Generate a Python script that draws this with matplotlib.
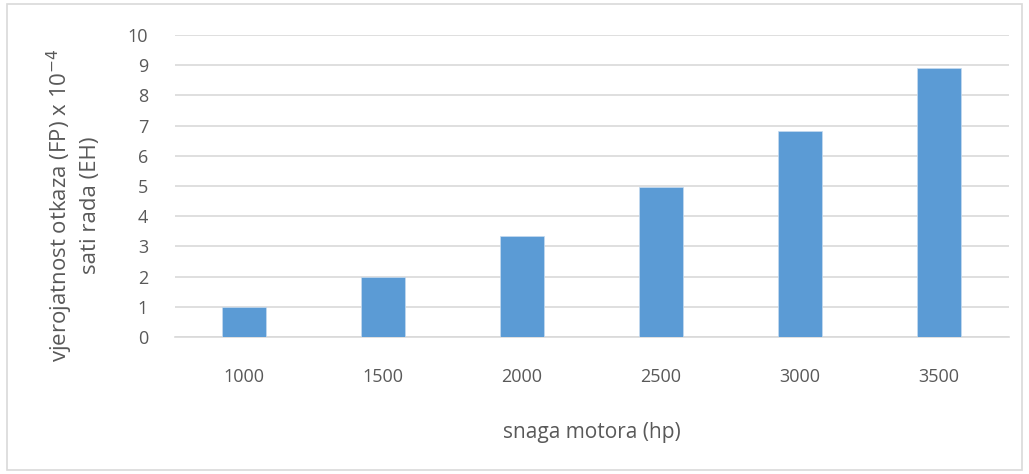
import matplotlib.pyplot as plt
from matplotlib.patches import Rectangle

snaga = ['1000', '1500', '2000', '2500', '3000', '3500']
vjerojatnost = [0.99, 2.0, 3.35, 4.97, 6.83, 8.92]

W, H = 1029, 474
fig = plt.figure(figsize=(W / 100, H / 100), dpi=100)
plt.rcParams['font.family'] = ['Open Sans', 'DejaVu Sans']

# okvir oko grafa
fig.patches.append(Rectangle((7 / W, 4 / H), (1022 - 7) / W, (470 - 4) / H,
                             transform=fig.transFigure, fill=False,
                             edgecolor='#d9d9d9', linewidth=1.2))

ax = fig.add_axes([174.5 / W, 1 - 337 / H, 834 / W, (337 - 35) / H])
x = range(len(snaga))
ax.bar(x, vjerojatnost, width=0.31, color='#5b9bd5', edgecolor='#c6dbef',
       linewidth=0.5, zorder=3)

ax.set_xlim(-0.5, len(snaga) - 0.5)
ax.set_ylim(0, 10)
ax.set_yticks(range(0, 11))
ax.set_xticks(list(x))
ax.set_xticklabels(snaga)
ax.grid(axis='y', color='#d9d9d9', linewidth=1.2, zorder=0)
for s in ['top', 'right', 'left']:
    ax.spines[s].set_visible(False)
ax.spines['bottom'].set_color('#d9d9d9')
ax.spines['bottom'].set_linewidth(1.2)
ax.tick_params(axis='both', length=0, labelsize=13, colors='#595959')
ax.tick_params(axis='y', pad=19)
ax.tick_params(axis='x', pad=22)

ax.set_xlabel('snaga motora (hp)', fontsize=15, color='#595959', labelpad=26)
fig.text(73 / W, 1 - 205 / H, 'vjerojatnost otkaza (FP) x 10$^{-4}$\nsati rada (EH)',
         rotation=90, ha='center', va='center', multialignment='center',
         fontsize=16, linespacing=1.3, color='#595959')

fig.savefig('out.png', dpi=100)
